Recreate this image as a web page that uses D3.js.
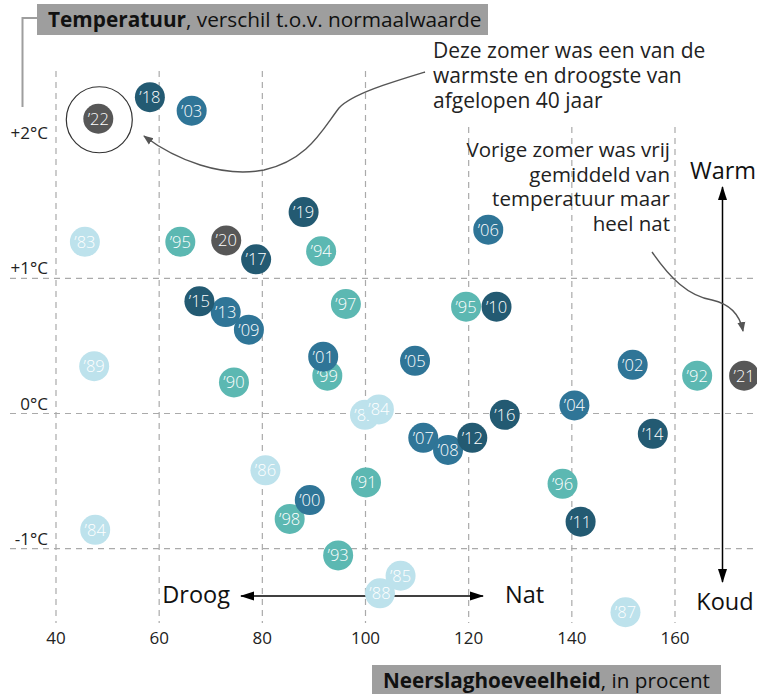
<!DOCTYPE html>
<html>
<head>
<meta charset="utf-8">
<script src="https://cdn.jsdelivr.net/npm/d3@7"></script>
<style>
  html, body { margin: 0; padding: 0; background: #fff; }
  svg { display: block; font-family: "Open Sans", Lato, sans-serif; }
</style>
</head>
<body>
<svg id="chart" width="757" height="694"></svg>
<script>
// Summer precipitation (% of normal) vs temperature anomaly (°C), per year
const years  = ["’82","’84","’83","’89","’86","’87","’85","’88","’84",
                "’95","’94","’97","’90","’99","’91","’98","’93","’96","’92","’95",
                "’03","’01","’05","’06","’07","’08","’04","’02","’00","’13","’09",
                "’18","’19","’17","’15","’10","’16","’12","’14","’11",
                "’20","’21","’22"];
const rain   = [99.9,102.6,45.6,47.4,80.6,150.4,106.8,102.8,47.6,
                64.1,91.4,96.2,74.5,92.6,100.1,85.3,94.7,138.2,164.3,119.5,
                66.3,91.8,109.6,123.8,111.2,116.0,140.5,151.8,89.2,72.9,77.4,
                58.2,88.0,78.8,67.8,125.4,127.0,120.7,155.7,141.7,
                73.0,173.4,48.2];
const temp   = [-0.01,0.03,1.27,0.35,-0.42,-1.47,-1.20,-1.33,-0.86,
                1.27,1.20,0.81,0.23,0.28,-0.51,-0.78,-1.05,-0.52,0.28,0.79,
                2.24,0.42,0.39,1.36,-0.18,-0.27,0.06,0.36,-0.64,0.75,0.62,
                2.34,1.49,1.14,0.83,0.79,-0.01,-0.18,-0.15,-0.80,
                1.28,0.28,2.18];
const decades = ["80","80","80","80","80","80","80","80","80",
                 "90","90","90","90","90","90","90","90","90","90","90",
                 "00","00","00","00","00","00","00","00","00","00","00",
                 "10","10","10","10","10","10","10","10","10",
                 "20","20","20"];
const xTicks = [40, 60, 80, 100, 120, 140, 160];
const yTicks = [2, 1, 0, -1];
const yTickLabels = ["+2°C", "+1°C", "0°C", "-1°C"];
const gridY = [1, 0, -1];

const decadeColor = d3.scaleOrdinal()
  .domain(["80", "90", "00", "10", "20"])
  .range(["#bde2ec", "#5cb8b2", "#2f7597", "#235a72", "#575757"]);

const svg = d3.select("#chart");
const x = d3.scaleLinear().domain([40, 160]).range([56, 675]);
const y = d3.scaleLinear().domain([-1, 1]).range([548.7, 278.3]);

const gridColor = "#aaa";
const dash = "6,5";

// vertical grid lines (the upper part right of 100 leaves room for the note)
svg.append("g").selectAll("line").data(xTicks).join("line")
  .attr("x1", d => x(d)).attr("x2", d => x(d))
  .attr("y1", d => d > 100 ? 127 : 71)
  .attr("y2", 623)
  .attr("stroke", gridColor).attr("stroke-width", 1.2)
  .attr("stroke-dasharray", dash);

// horizontal grid lines
svg.append("g").selectAll("line").data(gridY).join("line")
  .attr("x1", 10).attr("x2", 757)
  .attr("y1", d => y(d)).attr("y2", d => y(d))
  .attr("stroke", gridColor).attr("stroke-width", 1.2)
  .attr("stroke-dasharray", dash);

// x tick labels
svg.append("g").selectAll("text").data(xTicks).join("text")
  .attr("x", d => x(d)).attr("y", 644)
  .attr("text-anchor", "middle")
  .attr("font-size", 17).attr("fill", "#222")
  .text(d => d);

// y tick labels
svg.append("g").selectAll("text").data(yTicks).join("text")
  .attr("x", 48).attr("y", d => y(d) - 4)
  .attr("text-anchor", "end")
  .attr("font-size", 17).attr("fill", "#222")
  .text((d, i) => yTickLabels[i]);

// title bracket and box
svg.append("path")
  .attr("d", "M22.5,107 V18 H37")
  .attr("fill", "none").attr("stroke", "#9e9e9e").attr("stroke-width", 2);
svg.append("rect").attr("x", 37).attr("y", 4).attr("width", 451).attr("height", 31)
  .attr("fill", "#9e9e9e");
const title = svg.append("text").attr("x", 48).attr("y", 27)
  .attr("font-size", 20.8).attr("fill", "#111");
title.append("tspan").attr("font-weight", 700).text("Temperatuur");
title.append("tspan").text(", verschil t.o.v. normaalwaarde");

// x-axis title box
svg.append("rect").attr("x", 372).attr("y", 665).attr("width", 349).attr("height", 29)
  .attr("fill", "#9e9e9e");
const xt = svg.append("text").attr("x", 383).attr("y", 688)
  .attr("font-size", 20.7).attr("fill", "#111");
xt.append("tspan").attr("font-weight", 700).text("Neerslaghoeveelheid");
xt.append("tspan").text(", in procent");

// arrowhead markers
const defs = svg.append("defs");
function marker(id, color) {
  defs.append("marker").attr("id", id)
    .attr("viewBox", "0 0 10 10").attr("refX", 9).attr("refY", 5)
    .attr("markerWidth", 10).attr("markerHeight", 10)
    .attr("markerUnits", "userSpaceOnUse")
    .attr("orient", "auto-start-reverse")
    .append("path").attr("d", "M0,1 L10,5 L0,9 Z").attr("fill", color);
}
marker("headGray", "#555");
defs.append("marker").attr("id", "headBig")
  .attr("viewBox", "0 0 14 10").attr("refX", 13).attr("refY", 5)
  .attr("markerWidth", 14).attr("markerHeight", 10)
  .attr("markerUnits", "userSpaceOnUse")
  .attr("orient", "auto-start-reverse")
  .append("path").attr("d", "M0,0.5 L14,5 L0,9.5 Z").attr("fill", "#000");

// Droog / Nat arrow
svg.append("line").attr("x1", 241).attr("x2", 483).attr("y1", 596).attr("y2", 596)
  .attr("stroke", "#000").attr("stroke-width", 1.3)
  .attr("marker-start", "url(#headBig)").attr("marker-end", "url(#headBig)");
svg.append("text").attr("x", 230).attr("y", 603).attr("text-anchor", "end")
  .attr("font-size", 23.5).attr("fill", "#111").text("Droog");
svg.append("text").attr("x", 505).attr("y", 603)
  .attr("font-size", 23.5).attr("fill", "#111").text("Nat");

// Warm / Koud arrow
svg.append("line").attr("x1", 722.5).attr("x2", 722.5).attr("y1", 187).attr("y2", 582)
  .attr("stroke", "#000").attr("stroke-width", 1.5)
  .attr("marker-start", "url(#headBig)").attr("marker-end", "url(#headBig)");
svg.append("text").attr("x", 723).attr("y", 179).attr("text-anchor", "middle")
  .attr("font-size", 23.5).attr("fill", "#111").text("Warm");
svg.append("text").attr("x", 725).attr("y", 610).attr("text-anchor", "middle")
  .attr("font-size", 23.5).attr("fill", "#111").text("Koud");

// annotation: this summer
const note1 = ["Deze zomer was een van de", "warmste en droogste van", "afgelopen 40 jaar"];
svg.append("g").selectAll("text").data(note1).join("text")
  .attr("x", 433).attr("y", (d, i) => 58 + i * 25)
  .attr("font-size", 21).attr("fill", "#222").text(d => d);
svg.append("path")
  .attr("d", "M425,72 C392,82 352,94 339,108 C322,130 308,160 264,170 C222,178 176,160 144,136")
  .attr("fill", "none").attr("stroke", "#555").attr("stroke-width", 1.4)
  .attr("marker-end", "url(#headGray)");

// annotation: last summer
const note2 = ["Vorige zomer was vrij", "gemiddeld van", "temperatuur maar", "heel nat"];
svg.append("g").selectAll("text").data(note2).join("text")
  .attr("x", 670).attr("y", (d, i) => 157 + i * 24.5)
  .attr("text-anchor", "end")
  .attr("font-size", 20.5).attr("fill", "#222").text(d => d);
svg.append("path")
  .attr("d", "M652,252 C670,278 688,296 712,300 C730,304 740,315 743,331")
  .attr("fill", "none").attr("stroke", "#555").attr("stroke-width", 1.4)
  .attr("marker-end", "url(#headGray)");

// ring around this year's point
const last = years.length - 1;
svg.append("circle")
  .attr("cx", x(rain[last]) + 1).attr("cy", y(temp[last]) + 1).attr("r", 33)
  .attr("fill", "none").attr("stroke", "#333").attr("stroke-width", 1.2);

// year points
const pts = svg.append("g").selectAll("g").data(years).join("g")
  .attr("transform", (d, i) => `translate(${x(rain[i])},${y(temp[i])})`);
pts.append("circle").attr("r", 15)
  .attr("fill", (d, i) => decadeColor(decades[i]));
pts.append("text")
  .attr("text-anchor", "middle").attr("dy", "0.36em")
  .attr("font-size", 16.5).attr("font-weight", 300)
  .attr("fill", "#fff").text(d => d);
</script>
</body>
</html>
